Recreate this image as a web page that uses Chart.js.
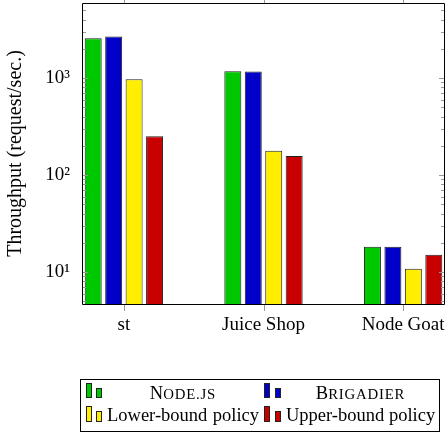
<!DOCTYPE html>
<html>
<head>
<meta charset="utf-8">
<script src="https://cdn.jsdelivr.net/npm/chart.js@4/dist/chart.umd.min.js"></script>
<style>
  html, body { margin:0; padding:0; background:#fff; }
  body { width:447px; height:434px; position:relative; overflow:hidden; font-family:"Liberation Serif", serif; }
  #c { position:absolute; left:0; top:0; }
  .lg-box { position:absolute; left:80px; top:379px; width:358px; height:51px; border:1px solid #000; }
  .ic { position:absolute; box-sizing:border-box; border:1px solid #222; width:6px; }
  .tx { position:absolute; font-size:18.5px; line-height:18px; white-space:nowrap; color:#000; }
  .sc { font-size:14.8px; letter-spacing:0.8px; }
  .just { text-align:justify; text-align-last:justify; }
  .cen { text-align:center; }
</style>
</head>
<body>
<canvas id="c" width="447" height="434"></canvas>
<div class="lg-box"></div>
<div class="ic" style="left:86px;top:383px;height:15px;background:rgb(0,200,0)"></div>
<div class="ic" style="left:96px;top:388px;height:10px;background:rgb(0,200,0)"></div>
<div class="tx cen" style="left:107px;top:384px;width:152px;">N<span class="sc">ODE.JS</span></div>
<div class="ic" style="left:264px;top:383px;height:15px;background:rgb(0,0,200)"></div>
<div class="ic" style="left:275px;top:388px;height:10px;background:rgb(0,0,200)"></div>
<div class="tx cen" style="left:286px;top:384px;width:149px;">B<span class="sc">RIGADIER</span></div>
<div class="ic" style="left:86px;top:406px;height:16px;background:rgb(255,238,0)"></div>
<div class="ic" style="left:96px;top:411px;height:11px;background:rgb(255,238,0)"></div>
<div class="tx just" style="left:107px;top:406px;width:152px;">Lower-bound policy</div>
<div class="ic" style="left:264px;top:406px;height:16px;background:rgb(200,0,0)"></div>
<div class="ic" style="left:275px;top:411px;height:11px;background:rgb(200,0,0)"></div>
<div class="tx just" style="left:286px;top:406px;width:149px;">Upper-bound policy</div>
<script>
// ---- data ----
const categories = ["st", "Juice Shop", "Node Goat"];
const seriesNames = ["Node.js", "Brigadier", "Lower-bound policy", "Upper-bound policy"];
const nodeValues      = [2570, 1175, 18.2];
const brigadierValues = [2670, 1165, 18.2];
const lowerValues     = [970, 178, 10.8];
const upperValues     = [251, 157, 15.1];
const yTickValues = [10, 100, 1000];
const yTickLabels = ["10¹", "10²", "10³"];
const yMin = 4.68, yMax = 5930;

const colors = ["rgb(0,200,0)", "rgb(0,0,200)", "rgb(255,238,0)", "rgb(200,0,0)"];
const seriesValues = [nodeValues, brigadierValues, lowerValues, upperValues];

const datasets = seriesValues.map((vals, k) => ({
  label: seriesNames[k],
  data: vals.map((v, i) => ({ x: i, y: v })),
  backgroundColor: colors[k],
  borderColor: "#222",
  borderWidth: 1,
  categoryPercentage: 0.586,
  barPercentage: 0.83
}));

const framePlugin = {
  id: "frame",
  afterDatasetsDraw(chart) {
    const ctx = chart.ctx;
    const a = chart.chartArea;
    const ys = chart.scales.y, xs = chart.scales.x;
    ctx.save();
    ctx.strokeStyle = "#999";
    ctx.lineWidth = 1;
    for (let d = 0; d <= 3; d++) {
      for (let m = 1; m <= 9; m++) {
        const v = m * Math.pow(10, d);
        if (v < yMin || v > yMax) continue;
        const py = Math.round(ys.getPixelForValue(v)) + 0.5;
        const len = m === 1 ? 6 : 4;
        ctx.beginPath();
        ctx.moveTo(a.left, py); ctx.lineTo(a.left + len, py);
        ctx.moveTo(a.right, py); ctx.lineTo(a.right - len, py);
        ctx.stroke();
      }
    }
    categories.forEach((c, i) => {
      const px = Math.round(xs.getPixelForValue(i)) + 0.5;
      ctx.beginPath();
      ctx.moveTo(px, a.bottom); ctx.lineTo(px, a.bottom + 7);
      ctx.moveTo(px, a.top); ctx.lineTo(px, a.top - 4);
      ctx.stroke();
    });
    ctx.strokeStyle = "#000";
    ctx.beginPath();
    ctx.rect(Math.round(a.left) + 0.5, Math.round(a.top) + 0.5,
             Math.round(a.right - a.left) - 1, Math.round(a.bottom - a.top));
    ctx.stroke();
    ctx.restore();
  }
};

new Chart(document.getElementById("c"), {
  type: "bar",
  data: { datasets },
  options: {
    responsive: false,
    animation: false,
    layout: { padding: { top: 3, right: 2, bottom: 90, left: 0 } },
    plugins: { legend: { display: false }, tooltip: { enabled: false } },
    scales: {
      x: {
        type: "linear",
        offset: false,
        min: -0.3, max: 2.3,
        grid: { display: false, drawTicks: false, offset: false },
        border: { display: false },
        afterBuildTicks(scale) { scale.ticks = categories.map((_, i) => ({ value: i })); },
        afterFit(scale) { scale.height = 40; scale.paddingLeft = 0; scale.paddingRight = 0; },
        ticks: {
          padding: 10,
          maxRotation: 0,
          autoSkip: false,
          color: "#000",
          font: { family: "Liberation Serif", size: 19 },
          callback: (v) => categories[v] ?? ""
        }
      },
      y: {
        type: "logarithmic",
        min: yMin, max: yMax,
        grid: { display: false, drawTicks: false },
        border: { display: false },
        afterBuildTicks(scale) { scale.ticks = yTickValues.map(v => ({ value: v })); },
        afterFit(scale) { scale.width = 82; scale.paddingTop = 0; scale.paddingBottom = 0; },
        ticks: {
          padding: 12,
          color: "#000",
          font: { family: "Liberation Serif", size: 19 },
          callback: (v) => { const i = yTickValues.indexOf(v); return i >= 0 ? yTickLabels[i] : ""; }
        },
        title: {
          display: true,
          text: "Throughput (request/sec.)",
          color: "#000",
          font: { family: "Liberation Serif", size: 20 },
          padding: { top: 4, bottom: 0 }
        }
      }
    }
  },
  plugins: [framePlugin]
});
</script>
</body>
</html>
